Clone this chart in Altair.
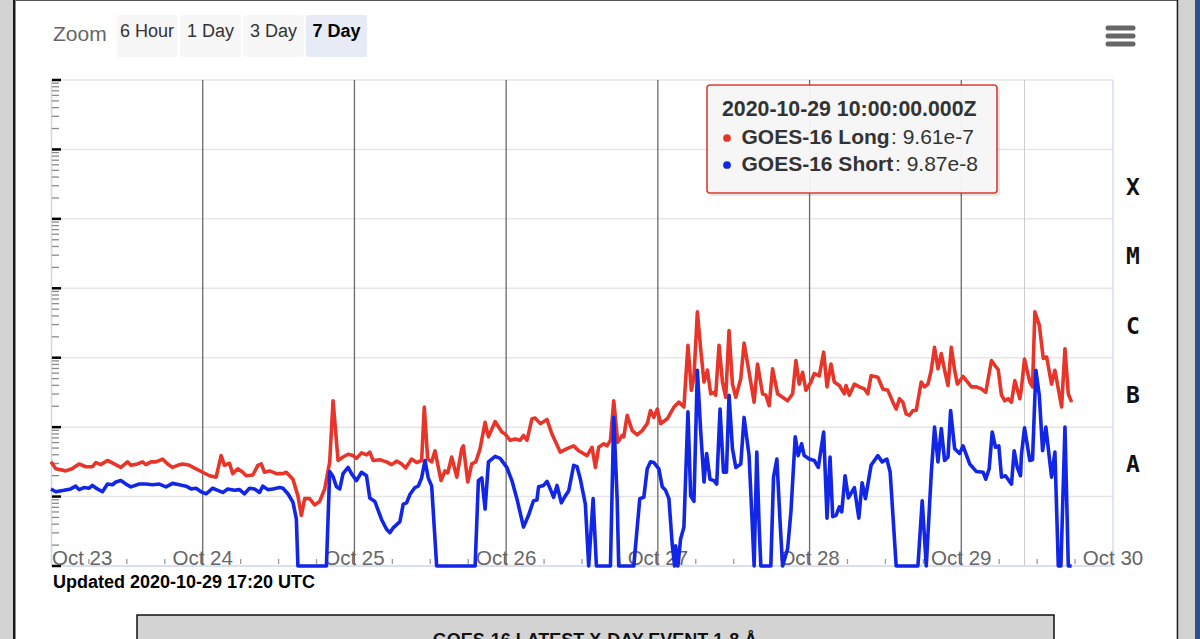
import altair as alt
import pandas as pd
import numpy as np

# ---------------- data ----------------
# hours since 2020-10-23 00:00 UTC, and log10 of the X-ray flux (W/m^2)
LONG_HOURS = [0.00, 0.75, 2.33, 3.33, 4.44, 5.50, 6.55, 7.09, 7.88, 8.93, 9.99, 11.05, 12.10, 12.64, 13.69,
              14.48, 15.02, 15.81, 16.61, 17.65, 18.45, 19.24, 20.03, 20.82, 21.89, 22.95, 24.00, 25.06, 26.12,
              26.91, 27.44, 28.23, 28.75, 29.55, 30.34, 30.88, 31.93, 32.72, 33.26, 33.78, 34.58, 35.64, 36.69,
              37.22, 38.27, 39.06, 39.60, 40.13, 40.92, 41.71, 42.50, 43.30, 44.09, 44.62, 45.41, 46.20, 46.99,
              47.79, 48.33, 49.12, 49.91, 50.43, 50.96, 52.02, 53.08, 53.88, 54.67, 55.46, 56.10, 57.05, 57.84,
              58.63, 59.05, 59.59, 60.22, 60.75, 61.70, 62.33, 62.76, 63.39, 64.19, 64.98, 65.23, 65.93, 66.56,
              67.20, 67.88, 68.67, 69.20, 70.26, 71.32, 71.85, 72.64, 73.43, 74.22, 74.75, 75.29, 76.08, 76.61,
              77.40, 78.46, 79.25, 80.57, 81.63, 82.68, 83.47, 84.80, 85.59, 86.12, 86.64, 87.44, 87.97, 88.50,
              89.02, 89.66, 90.35, 90.61, 91.15, 91.94, 92.73, 93.53, 94.32, 94.84, 95.37, 95.91, 96.43, 97.49,
              98.54, 99.33, 100.12, 100.76, 101.30, 101.71, 102.25, 102.77, 103.30, 103.84, 104.36, 104.88,
              105.15, 105.68, 106.22, 106.74, 107.26, 107.80, 108.33, 109.12, 109.64, 110.43, 111.23, 111.77,
              112.56, 113.08, 113.61, 114.15, 114.94, 115.73, 116.53, 117.32, 117.84, 118.36, 118.90, 119.43,
              120.22, 120.74, 121.54, 122.23, 122.76, 123.39, 123.91, 124.71, 125.50, 125.77, 126.29, 127.09,
              127.88, 128.67, 129.21, 129.73, 130.80, 131.59, 132.38, 133.18, 133.70, 134.22, 134.76, 135.28,
              135.81, 136.35, 136.87, 137.66, 138.19, 138.73, 139.25, 139.77, 140.31, 140.84, 141.36, 141.90,
              142.42, 142.95, 143.38, 144.28, 144.81, 145.60, 146.40, 147.18, 147.87, 148.77, 149.30, 149.84,
              150.36, 150.88, 151.42, 151.94, 152.47, 153.26, 153.50, 154.00, 154.84, 155.27, 155.64, 156.34,
              156.97, 157.50, 158.28, 158.81, 159.87, 160.40, 160.93, 161.46]
LONG_LOG10 = [-7.50, -7.60, -7.63, -7.60, -7.53, -7.57, -7.57, -7.51, -7.54, -7.48, -7.53, -7.58, -7.50, -7.55, -7.53,
              -7.50, -7.54, -7.50, -7.50, -7.46, -7.53, -7.58, -7.55, -7.53, -7.55, -7.60, -7.65, -7.70, -7.72,
              -7.41, -7.55, -7.52, -7.67, -7.60, -7.65, -7.70, -7.69, -7.55, -7.53, -7.65, -7.63, -7.67, -7.67,
              -7.65, -7.75, -7.99, -8.27, -8.03, -8.03, -8.12, -8.07, -7.89, -7.50, -6.62, -7.48, -7.43, -7.39,
              -7.41, -7.45, -7.37, -7.40, -7.36, -7.48, -7.47, -7.50, -7.54, -7.49, -7.53, -7.59, -7.46, -7.51,
              -7.48, -6.71, -7.46, -7.50, -7.34, -7.77, -7.63, -7.66, -7.43, -7.72, -7.31, -7.27, -7.79, -7.53,
              -7.50, -7.31, -6.93, -7.14, -6.92, -7.07, -7.10, -7.19, -7.17, -7.19, -7.12, -7.19, -6.88, -6.87,
              -6.95, -6.89, -7.10, -7.36, -7.31, -7.27, -7.34, -7.41, -7.29, -7.58, -7.29, -7.24, -7.27, -7.19,
              -6.62, -7.22, -7.12, -7.14, -6.83, -7.05, -7.11, -7.05, -6.95, -6.76, -6.86, -6.74, -6.95, -6.88,
              -6.71, -6.64, -6.71, -5.82, -6.47, -6.28, -5.34, -5.87, -6.35, -6.18, -6.52, -6.50,
              -6.54, -5.82, -6.35, -6.57, -5.61, -6.38, -6.57, -6.30, -5.79, -6.21, -6.64, -6.09,
              -6.52, -6.54, -6.69, -6.16, -6.52, -6.57, -6.62, -6.52, -6.04, -6.38, -6.21, -6.47,
              -6.35, -6.23, -6.26, -5.92, -6.42, -6.09, -6.35, -6.40, -6.52, -6.40, -6.54, -6.38,
              -6.42, -6.45, -6.52, -6.26, -6.28, -6.45, -6.47, -6.64, -6.74, -6.59, -6.64, -6.81,
              -6.83, -6.76, -6.76, -6.35, -6.42, -6.38, -6.18, -5.85, -6.16, -5.94, -6.18, -6.40,
              -5.85, -6.18, -6.38, -6.27, -6.33, -6.42, -6.42, -6.45, -6.50, -6.04, -6.11, -6.17,
              -6.54, -6.62, -6.59, -6.64, -6.33, -6.59, -6.45, -6.02, -6.35, -6.42, -5.34, -5.53,
              -6.01, -5.99, -6.38, -6.18, -6.71, -5.87, -6.52, -6.64]

SHORT_HOURS = [0.00, 0.75, 2.06, 3.12, 3.92, 4.44, 5.23, 6.03, 6.55, 7.34, 8.14, 8.93, 9.72, 10.26, 11.05, 11.85,
               12.64, 13.96, 15.02, 16.07, 17.13, 18.19, 19.24, 20.30, 21.36, 22.16, 22.95, 23.74, 24.54, 25.58,
               26.38, 27.17, 27.96, 29.02, 29.82, 30.61, 31.40, 32.20, 32.99, 33.51, 34.31, 35.10, 36.16, 36.69,
               37.48, 38.27, 38.81, 39.06, 43.57, 44.09, 44.62, 45.16, 45.68, 46.20, 47.00, 47.54, 48.33, 49.12,
               49.91, 50.43, 51.23, 52.29, 53.08, 53.61, 54.13, 55.19, 55.72, 56.25, 56.78, 57.57, 58.10, 58.63,
               59.16, 59.68, 60.22, 61.01, 67.09, 67.61, 68.15, 68.67, 69.20, 70.26, 71.05, 72.11, 72.91, 73.70,
               74.75, 75.54, 76.33, 76.87, 77.13, 77.92, 78.46, 78.98, 79.51, 80.05, 80.73, 81.36, 81.89, 82.68,
               83.22, 83.74, 84.53, 85.06, 85.76, 86.28, 88.50, 89.02, 89.56, 89.81, 92.19, 93.14, 93.78, 94.32,
               94.84, 95.37, 96.16, 96.70, 97.22, 97.75, 98.29, 98.65, 98.81, 99.17, 99.60, 100.12, 100.76,
               101.19, 101.71, 102.25, 102.77, 103.30, 103.72, 104.25, 104.88, 105.31, 105.84, 106.38, 106.85,
               107.26, 107.80, 108.33, 109.12, 109.64, 110.43, 110.97, 111.23, 111.65, 112.02, 112.29, 113.87,
               114.30, 114.83, 115.35, 115.73, 116.53, 117.05, 117.73, 118.20, 118.74, 119.15, 119.95, 120.74,
               121.38, 122.23, 122.76, 123.24, 123.66, 124.19, 124.71, 125.09, 125.62, 126.14, 127.09, 127.79,
               128.31, 128.84, 129.73, 130.80, 131.48, 132.23, 132.75, 133.70, 137.14, 137.82, 138.46, 139.25,
               139.77, 140.31, 140.84, 141.36, 141.90, 142.31, 142.95, 143.74, 144.28, 145.33, 146.40, 147.46,
               147.87, 148.41, 148.89, 149.41, 149.94, 150.36, 150.99, 151.94, 152.37, 152.85, 153.37, 153.50,
               154.00, 154.84, 155.27, 155.80, 156.34, 156.86, 157.38, 158.28, 158.81, 159.35, 159.76, 160.40,
               160.93, 161.46]
SHORT_LOG10 = [-7.89, -7.93, -7.91, -7.89, -7.85, -7.90, -7.87, -7.88, -7.84, -7.89, -7.93, -7.82, -7.83, -7.79,
               -7.77, -7.82, -7.86, -7.82, -7.82, -7.83, -7.82, -7.86, -7.81, -7.83, -7.85, -7.89, -7.88, -7.93,
               -7.96, -7.88, -7.91, -7.94, -7.89, -7.91, -7.90, -7.96, -7.88, -7.89, -7.94, -7.85, -7.90, -7.89,
               -7.87, -7.88, -7.96, -8.08, -8.32, -9.00, -9.00, -7.64, -7.71, -7.86, -7.89, -7.67, -7.58, -7.67,
               -7.77, -7.65, -7.70, -8.02, -8.07, -8.33, -8.47, -8.52, -8.45, -8.36, -8.11, -8.09, -7.97, -7.87,
               -7.85, -7.73, -7.48, -7.73, -7.85, -9.00, -9.00, -7.77, -7.73, -8.18, -7.50, -7.42, -7.45, -7.58,
               -7.77, -8.03, -8.44, -8.27, -8.06, -8.05, -7.86, -7.84, -7.78, -7.89, -8.01, -7.84, -8.09, -7.99,
               -7.92, -7.55, -7.57, -7.75, -8.11, -9.00, -8.03, -9.00, -9.00, -6.86, -8.03, -9.00, -9.00, -8.03,
               -8.01, -7.60, -7.50, -7.51, -7.60, -7.86, -7.91, -8.03, -8.71, -9.00, -8.71, -9.00, -8.61, -8.44,
               -6.78, -7.99, -8.07, -6.18, -7.05, -7.79, -7.38, -7.75, -7.77, -7.82, -6.74, -7.65, -7.65,
               -6.54, -7.31, -7.58, -7.53, -6.86, -7.41, -8.47, -9.00, -7.36, -8.42, -9.00, -9.00,
               -7.72, -7.46, -8.39, -9.00, -8.75, -8.22, -7.14, -7.41, -7.24, -7.41, -7.46, -7.48,
               -7.58, -7.07, -8.31, -7.43, -8.29, -8.27, -8.15, -8.22, -7.70, -8.02, -7.87, -8.31,
               -7.80, -8.03, -7.55, -7.41, -7.50, -7.46, -7.65, -9.00, -9.00, -8.06, -9.00, -7.67,
               -7.00, -7.50, -7.02, -7.48, -7.43, -6.76, -7.31, -7.38, -7.27, -7.53, -7.64, -7.65,
               -7.75, -7.60, -7.07, -7.29, -7.27, -7.72, -7.70, -7.82, -7.34, -7.58, -7.70, -7.41,
               -7.01, -7.48, -7.47, -6.18, -6.54, -7.34, -7.00, -7.72, -7.36, -9.00, -9.00, -7.00,
               -9.00, -9.00]

DAY_LABELS = ["Oct 23", "Oct 24", "Oct 25", "Oct 26", "Oct 27", "Oct 28", "Oct 29", "Oct 30"]
DAY_DATES = ["2020-10-23", "2020-10-24", "2020-10-25", "2020-10-26",
             "2020-10-27", "2020-10-28", "2020-10-29", "2020-10-30"]
CLASS_LABELS = ["A", "B", "C", "M", "X"]
CLASS_LOWER = [1e-8, 1e-7, 1e-6, 1e-5, 1e-4]
DECADES = [1e-9, 1e-8, 1e-7, 1e-6, 1e-5, 1e-4, 1e-3, 1e-2]

TOOLTIP_TIME = "2020-10-29T10:00:00Z"
TOOLTIP_TITLE = "2020-10-29 10:00:00.000Z"
SERIES_NAMES = ["GOES-16 Long", "GOES-16 Short"]
TOOLTIP_VALUES = ["9.61e-7", "9.87e-8"]
ZOOM_BUTTONS = ["6 Hour", "1 Day", "3 Day", "7 Day"]
UPDATED_TEXT = "Updated 2020-10-29 17:20 UTC"
BOTTOM_TITLE = "GOES-16 LATEST X-DAY EVENT 1-8 Å"

# ---------------- build tables ----------------
START = pd.Timestamp("2020-10-23", tz="UTC")


def iso(h):
    return (START + pd.to_timedelta(h, unit="h")).strftime("%Y-%m-%dT%H:%M:%SZ")


df_long = pd.DataFrame({"time": [iso(h) for h in LONG_HOURS], "flux": [10.0 ** v for v in LONG_LOG10]})
df_short = pd.DataFrame({"time": [iso(h) for h in SHORT_HOURS], "flux": [10.0 ** v for v in SHORT_LOG10]})
df_days = pd.DataFrame({"t": [d + "T00:00:00Z" for d in DAY_DATES], "label": DAY_LABELS})
df_6h = pd.DataFrame({"t": [iso(h) for h in range(6, 168, 6) if h % 24 != 0]})
df_dec = pd.DataFrame({"v": DECADES})
df_minor = pd.DataFrame({"v": [m * d for d in DECADES[:-1] for m in range(2, 10)]})
df_cls = pd.DataFrame({"label": CLASS_LABELS, "mid": [c * np.sqrt(10) for c in CLASS_LOWER]})

W, H = 1062, 486
FONT = "Liberation Sans"
RED, BLUE = "#e8352a", "#1226e8"

ms = lambda s: int(pd.Timestamp(s).value // 10**6)
x_scale = alt.Scale(type="utc", domain=[ms("2020-10-23T00:00:00Z"), ms("2020-10-30T00:00:00Z")])
y_scale = alt.Scale(type="log", domain=[1e-9, 1e-2], nice=False, clamp=True)
X = lambda f: alt.X(f, type="temporal", scale=x_scale, axis=None)
Y = lambda f: alt.Y(f, type="quantitative", scale=y_scale, axis=None)


def one():
    return alt.Chart(pd.DataFrame({"k": [0]}))


def rect(x0, x1, y0, y1, **kw):
    return one().mark_rect(**kw).encode(x=alt.value(x0), x2=alt.value(x1), y=alt.value(y0), y2=alt.value(y1))


def text(s, x, y, **kw):
    kw.setdefault("font", FONT)
    kw.setdefault("baseline", "middle")
    kw.setdefault("align", "left")
    return one().mark_text(text=s, **kw).encode(x=alt.value(x), y=alt.value(y))


def hrule(x0, x1, y, **kw):
    return one().mark_rule(**kw).encode(x=alt.value(x0), x2=alt.value(x1), y=alt.value(y))


layers = []

# page frame
layers += [
    rect(-51, -38, -80, 559, fill="#d2d2d2"),
    rect(-38, -35.5, -80, 559, fill="#1a1a1a"),
    rect(-35.5, 1126, -80, -79, fill="#555555"),
    rect(1125.7, 1127.5, -80, 559, fill="#1a1a1a"),
    rect(1127.5, 1144, -80, 559, fill="#d2d2d2"),
    rect(1144, 1149, -80, 559, fill="#2f4f8a"),
]

# grid
layers.append(alt.Chart(df_dec[df_dec.v > 1e-9]).mark_rule(color="#e6e6e6", strokeWidth=1.5)
              .encode(y=Y("v"), x=alt.value(0), x2=alt.value(W)))
layers.append(alt.Chart(df_days.iloc[1:7]).mark_rule(color="#6a6a6a", strokeWidth=1.3)
              .encode(x=X("t"), y=alt.value(0), y2=alt.value(H)))
layers.append(alt.Chart(pd.DataFrame({"t": [TOOLTIP_TIME]})).mark_rule(color="#cccccc", strokeWidth=1)
              .encode(x=X("t"), y=alt.value(0), y2=alt.value(H)))

# axis lines
layers += [
    hrule(0, W, H, color="#ccd6eb", strokeWidth=1.5),
    one().mark_rule(color="#ccd6eb", strokeWidth=1.5).encode(x=alt.value(0.5), y=alt.value(0), y2=alt.value(H)),
    one().mark_rule(color="#ccd6eb", strokeWidth=1.2).encode(x=alt.value(W), y=alt.value(0), y2=alt.value(H)),
]

# y ticks
layers.append(alt.Chart(df_minor).mark_rule(color="#8a8a8a", strokeWidth=1.3)
              .encode(y=Y("v"), x=alt.value(1), x2=alt.value(8)))
layers.append(alt.Chart(df_dec).mark_rule(color="#000000", strokeWidth=2.5)
              .encode(y=Y("v"), x=alt.value(1), x2=alt.value(10)))

# x labels
layers.append(alt.Chart(df_days.iloc[:1]).mark_text(font=FONT, fontSize=20.5, color="#666666", align="left",
                                                   baseline="alphabetic", dx=1)
              .encode(x=X("t"), y=alt.value(H - 1), text="label:N"))
layers.append(alt.Chart(df_days.iloc[1:]).mark_text(font=FONT, fontSize=20.5, color="#666666", align="center",
                                                   baseline="alphabetic")
              .encode(x=X("t"), y=alt.value(H - 1), text="label:N"))
# x minor ticks
layers.append(alt.Chart(df_6h).mark_rule(color="#999999", strokeWidth=1.3)
              .encode(x=X("t"), y=alt.value(H - 7), y2=alt.value(H - 2)))

# flare class labels
layers.append(alt.Chart(df_cls).mark_text(font="DejaVu Sans Mono", fontWeight="bold", fontSize=23,
                                          color="#111111", align="center", baseline="middle", dy=3.5)
              .encode(y=Y("mid"), x=alt.value(W + 20), text="label:N"))

# series
layers.append(alt.Chart(df_long).mark_line(color=RED, strokeWidth=3.6, strokeJoin="round")
              .encode(x=X("time"), y=Y("flux")))
layers.append(alt.Chart(df_short).mark_line(color=BLUE, strokeWidth=3.6, strokeJoin="round")
              .encode(x=X("time"), y=Y("flux")))

# tooltip
layers += [
    rect(658, 949, 7, 116, fill="#000000", opacity=0.10, cornerRadius=3),
    rect(656, 946, 5, 113, fill="#f7f7f7", opacity=0.97, stroke="#d9392e", strokeWidth=1.6, cornerRadius=3),
    text(TOOLTIP_TITLE, 671, 30, fontSize=21.3, fontWeight="bold", color="#333333"),
    one().mark_circle(color=RED, size=60, opacity=1).encode(x=alt.value(676), y=alt.value(58)),
    one().mark_circle(color=BLUE, size=60, opacity=1).encode(x=alt.value(676), y=alt.value(85)),
    text(SERIES_NAMES[0], 690.5, 58, fontSize=21, fontWeight="bold", color="#333333"),
    text(": " + TOOLTIP_VALUES[0], 840, 58, fontSize=21, color="#333333"),
    text(SERIES_NAMES[1], 690.5, 85, fontSize=21, fontWeight="bold", color="#333333"),
    text(": " + TOOLTIP_VALUES[1], 844, 85, fontSize=21, color="#333333"),
]

# header: zoom buttons
layers.append(text("Zoom", 2, -45, fontSize=21, color="#666666"))
btn_x = [(66, 126), (129, 190), (192, 253), (255, 316)]
for i, (lab, (a, b)) in enumerate(zip(ZOOM_BUTTONS, btn_x)):
    sel = i == len(ZOOM_BUTTONS) - 1
    layers.append(rect(a, b, -65, -23, fill="#e6ebf5" if sel else "#f7f7f7", cornerRadius=2))
    layers.append(text(lab, (a + b) / 2, -48.5, align="center", fontSize=18,
                       fontWeight="bold" if sel else "normal", color="#000000" if sel else "#333333"))

# menu icon
for yy in (-52, -44, -36):
    layers.append(hrule(1057, 1082, yy, color="#666666", strokeWidth=5, strokeCap="round"))

# footer
layers.append(text(UPDATED_TEXT, 2, 503, fontSize=18, fontWeight="bold", color="#000000"))
layers.append(rect(86, 1003, 535, 580, fill="#d3d3d3", stroke="#111111", strokeWidth=1.5))
layers.append(text(BOTTOM_TITLE, 544, 566, align="center", baseline="alphabetic", fontSize=18,
                   fontWeight="bold", color="#111111"))

chart = alt.layer(*layers).properties(
    width=W, height=H,
    padding={"left": 51, "top": 80, "right": 87, "bottom": 73},
    autosize=alt.AutoSizeParams(type="none"),
    background="#ffffff",
).configure_view(stroke=None)

chart.save("out.html", embed_options={"renderer": "svg", "actions": False})
